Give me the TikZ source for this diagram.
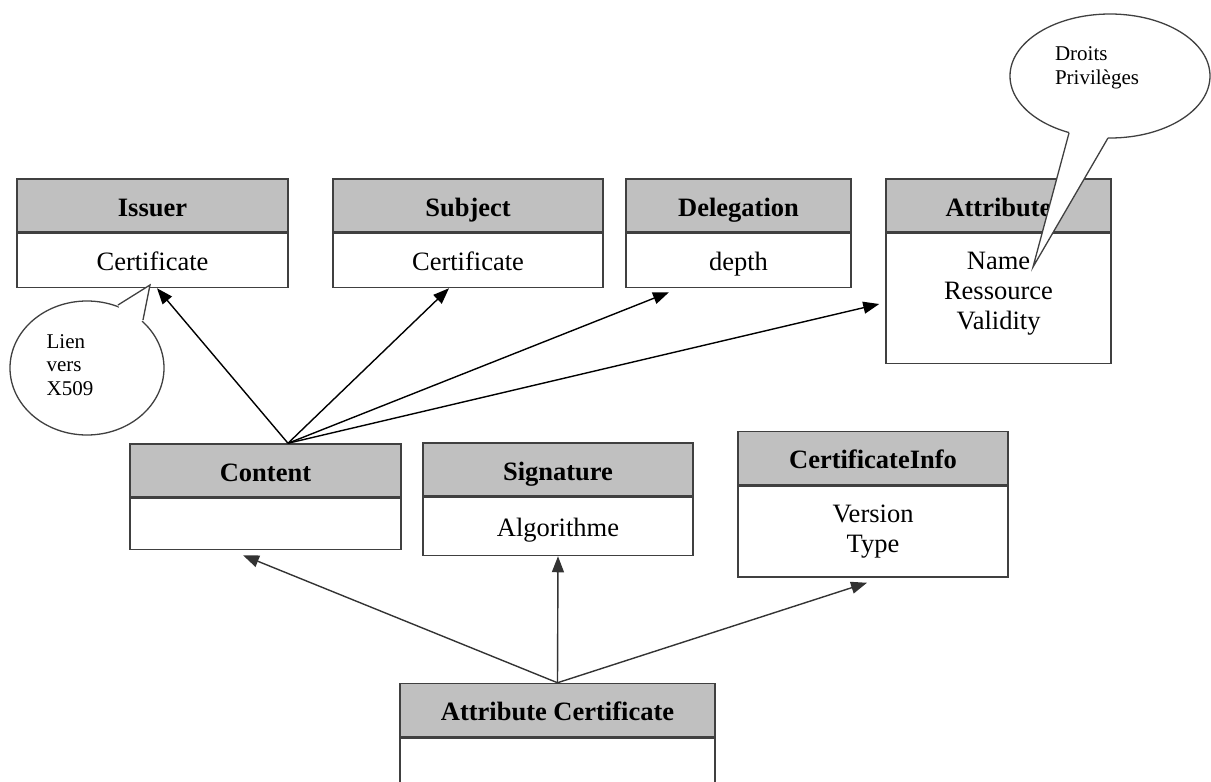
\documentclass[tikz,border=0pt]{standalone}
\usepackage{fontspec}
\setmainfont{Liberation Serif}
\usetikzlibrary{arrows.meta}
\definecolor{linegray}{HTML}{404040}
\definecolor{headgray}{HTML}{C0C0C0}
\newcommand\classfont{\fontsize{26.5}{30}\selectfont}
\newcommand\notefont{\fontsize{21}{23.5}\selectfont}
\tikzset{
  head/.style={draw=linegray,fill=headgray,line width=1.5pt,inner sep=0pt,minimum height=53pt,text height=22pt,text depth=1pt,font=\classfont\bfseries},
  body/.style={draw=linegray,fill=white,line width=1.5pt,inner sep=0pt,align=center,anchor=north,font=\classfont},
  oneline/.style={text height=20pt,text depth=1pt},
  note/.style={align=left,inner sep=0pt,font=\notefont},
  bubble/.style={draw=linegray,fill=white,line width=1.3pt}
}

\begin{document}
\begin{tikzpicture}[x=1pt,y=-1pt,>={Triangle[length=16pt,width=12pt]}]
                \useasboundingbox (0,0) rectangle (1211,782);
                \clip (0,0) rectangle (1211,782);
                % top row
                \node[head,minimum width=271pt](issuerH)at(152.5, 205.5){Issuer};
                \node[body,oneline,minimum width=271pt,minimum height=54pt](issuerB)at(issuerH.south){Certificate};
                \node[head,minimum width=270pt](subjectH)at(468, 205.5){Subject};
                \node[body,oneline,minimum width=270pt,minimum height=54pt](subjectB)at(subjectH.south){Certificate};
                \node[head,minimum width=225pt](delegH)at(738.5, 205.5){Delegation};
                \node[body,oneline,minimum width=225pt,minimum height=54pt](delegB)at(delegH.south){depth};
                \node[head,minimum width=225pt](attrH)at(998.5, 205.5){Attribute};
                \node[body,minimum width=225pt,minimum height=130pt](attrB)at(attrH.south){Name\\Ressource\\Validity\\[-14pt]};
                % middle row
                \node[head,minimum width=271pt](contentH)at(265.5, 470.5){Content};
                \node[body,minimum width=271pt,minimum height=51pt](contentB)at(contentH.south){};
                \node[head,minimum width=270pt](sigH)at(558, 469.5){Signature};
                \node[body,oneline,minimum width=270pt,minimum height=58pt](sigB)at(sigH.south){Algorithme};
                \node[head,minimum width=270pt](infoH)at(873, 458){CertificateInfo};
                \node[body,minimum width=270pt,minimum height=91pt](infoB)at(infoH.south){Version\\Type};
                % bottom
                \node[head,minimum width=315pt](acH)at(557.5, 710){Attribute Certificate};
                \node[body,minimum width=315pt,minimum height=100pt](acB)at(acH.south){};
                % connectors
                \path[->,line width=1.4pt,black]([xshift=22.5pt]contentH.north)
                edge ([xshift=4.5pt]issuerB.south)
                edge ([xshift=-19pt]subjectB.south)
                edge ([xshift=-69.5pt,yshift=-4pt]delegB.south)
                edge ([xshift=-6pt,yshift=-5.5pt]attrB.west);
                \path[->,line width=1.4pt,black!80](acH.north)
                edge ([xshift=-22.5pt,yshift=-5pt]contentB.south)
                edge (sigB.south)
                edge ([xshift=-6pt,yshift=-5pt]infoB.south);
                % callouts
                \draw[bubble](1110, 76) ellipse [x radius=100, y radius=62];
                \fill[white](1072, 127) -- (1069, 133) -- (1033, 267) -- (1108, 138) -- (1106, 130) -- cycle;
                \draw[linegray,line width=1.3pt](1069, 133) -- (1033, 267) -- (1108, 138);
                \node[note](droits)at(1097, 68){Droits\\Privilèges};
                \draw[bubble](87, 368) ellipse [x radius=77, y radius=67];
                \fill[white](121, 312) -- (118, 305) -- (150, 285) -- (143, 320) -- (139, 324) -- cycle;
                \draw[linegray,line width=1.3pt](118, 305) -- (150, 285) -- (143, 320);
                \node[note](lien)at(70, 365){Lien\\vers\\X509};
            \end{tikzpicture}
\end{document}
